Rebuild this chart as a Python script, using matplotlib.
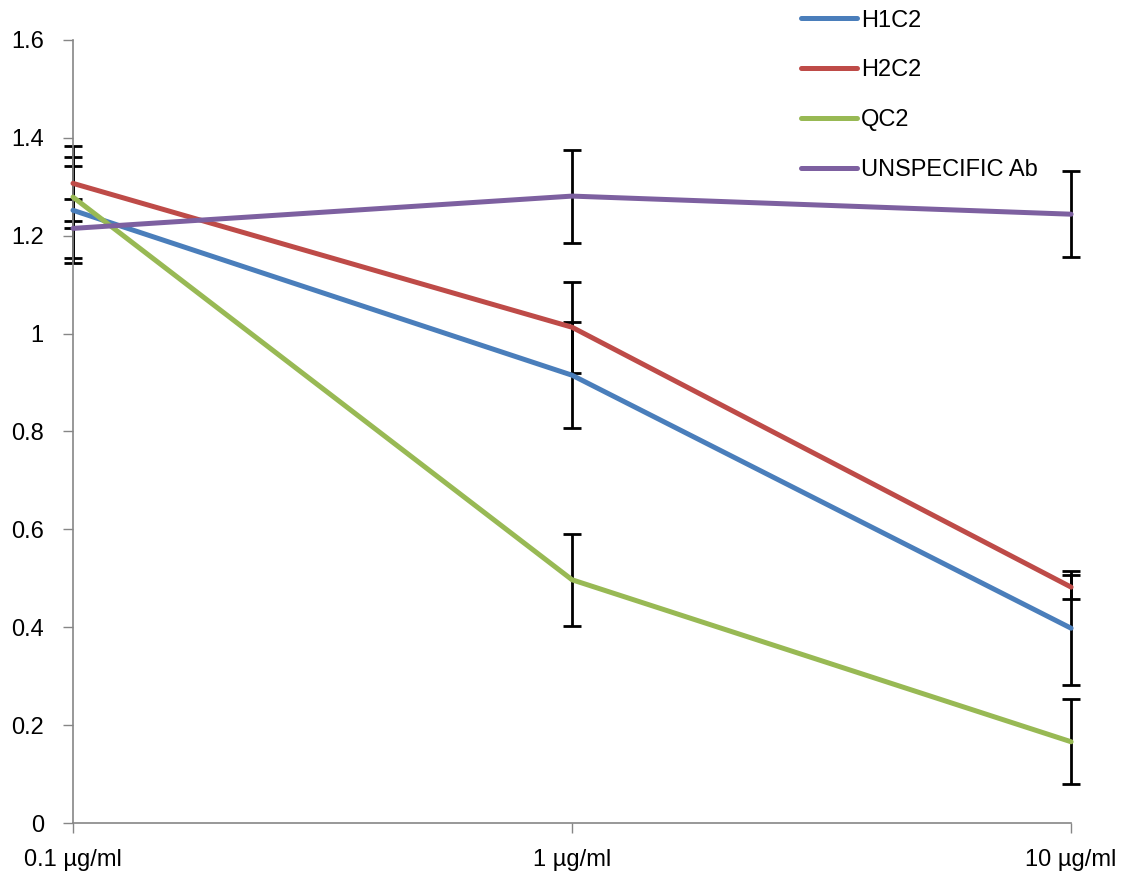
import matplotlib
matplotlib.use('Agg')
import matplotlib.pyplot as plt
from matplotlib.ticker import FuncFormatter

# data
doses = ['0.1 µg/ml', '1 µg/ml', '10 µg/ml']
series_names = ['H1C2', 'H2C2', 'QC2', 'UNSPECIFIC Ab']
h1c2 = [1.252, 0.915, 0.398]
h1c2_err = [0.108, 0.108, 0.116]
h2c2 = [1.307, 1.013, 0.482]
h2c2_err = [0.076, 0.093, 0.025]
qc2 = [1.279, 0.497, 0.166]
qc2_err = [0.063, 0.094, 0.087]
unspec = [1.215, 1.281, 1.244]
unspec_err = [0.060, 0.095, 0.088]
colors = ['#4A7EBB', '#BE4B48', '#98B954', '#7D60A0']


def main():
    plt.rcParams['font.family'] = ['Liberation Sans', 'DejaVu Sans']
    fig = plt.figure(figsize=(11.23, 8.71), dpi=100)
    ax = fig.add_axes([0.065, 0.0551, 0.8888, 0.8990])

    xs = list(range(len(doses)))
    values = [h1c2, h2c2, qc2, unspec]
    errs = [h1c2_err, h2c2_err, qc2_err, unspec_err]
    handles = []
    for vals, err, c, name in zip(values, errs, colors, series_names):
        ln, = ax.plot(xs, vals, '-', color=c, linewidth=3.6, label=name,
                      solid_capstyle='round', zorder=3, clip_on=False)
        eb = ax.errorbar(xs, vals, yerr=err, fmt='none', ecolor='black',
                         elinewidth=2, capsize=6.5, capthick=2, zorder=2)
        for part in eb.get_children():
            part.set_clip_on(False)
        handles.append(ln)

    ax.set_xlim(0, len(doses) - 1)
    ax.set_ylim(0, 1.6)
    ax.set_xticks(xs)
    ax.set_xticklabels(doses)
    ax.set_yticks([0, 0.2, 0.4, 0.6, 0.8, 1.0, 1.2, 1.4, 1.6])
    ax.yaxis.set_major_formatter(FuncFormatter(lambda v, p: '{:g}'.format(round(v, 1))))

    for s in ['top', 'right']:
        ax.spines[s].set_visible(False)
    for s in ['left', 'bottom']:
        ax.spines[s].set_color('#868686')
        ax.spines[s].set_linewidth(1.2)
    ax.tick_params(axis='both', direction='out', length=7, width=1,
                   color='#868686', labelsize=17, labelcolor='black')
    ax.tick_params(axis='x', pad=12)
    ax.tick_params(axis='y', pad=14)

    fig.legend(handles, series_names, loc='upper left',
               bbox_to_anchor=(0.713, 0.989), frameon=False, fontsize=17,
               handlelength=2.4, handletextpad=0.15, labelspacing=1.18,
               borderpad=0, borderaxespad=0)

    fig.savefig('out.png', dpi=100)


if __name__ == '__main__':
    main()
